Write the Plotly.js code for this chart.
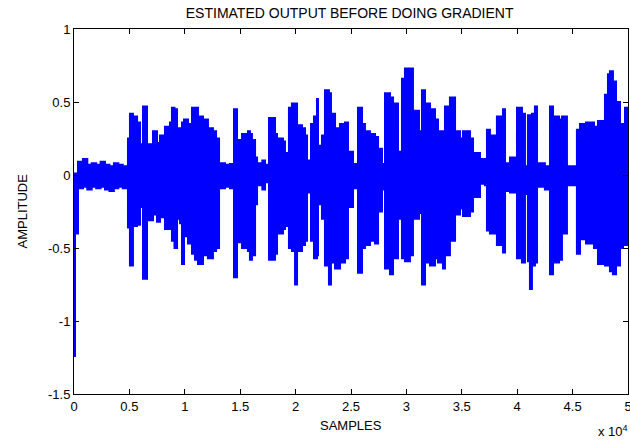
<!DOCTYPE html>
<html>
<head>
<meta charset="utf-8">
<script src="https://cdn.plot.ly/plotly-3.0.1.min.js"></script>
<style>html,body{margin:0;padding:0;background:#fff;}#chart{width:630px;height:441px;}</style>
</head>
<body>
<div id="chart"></div>
<script>
// Sample index (position along the signal)
const sampleIdx = [0,90,360,810,1200,1600,2000,2400,2800,3200,3600,4000,4400,4870,5050,5320,5690,5960,6230,6590,7130,7490,7760,8210,8660,8840,9070,9300,9570,9750,9930,10290,10650,10920,11190,11640,12090,12540,12820,13090,13630,14080,14440,14710,15160,15700,15880,16060,16340,16520,17000,17240,17600,18140,18320,18860,19040,19230,19400,19670,19950,20130,20580,20850,21030,21390,21660,21930,22020,22380,22650,23010,23190,23560,24010,24460,24730,25180,25630,25990,26260,26710,27170,27440,27800,28070,28520,28790,29240,29600,29870,30320,30590,31140,31410,31680,32130,32580,32850,33300,33480,33930,34390,34840,35110,35740,36010,36640,37090,37270,37540,38170,38720,38900,39350,39980,40430,40700,40970,41150,41330,41600,41790,42500,42960,43230,43770,44040,44490,45390,45670,46210,46930,47200,47290,47920,48190,48370,48640,48920,49280,49550,49730,50000];
// Upper envelope of the estimated output (amplitude)
const upperEnv = [0.01,0.01,0.09,0.11,0.07,0.08,0.07,0.09,0.07,0.06,0.08,0.07,0.06,0.25,0.42,0.40,0.36,0.21,0.47,0.21,0.30,0.22,0.27,0.33,0.36,0.46,0.45,0.32,0.31,0.36,0.38,0.35,0.46,0.46,0.40,0.38,0.32,0.30,0.25,0.08,0.07,0.075,0.45,0.24,0.28,0.30,0.28,0.24,0.12,0.08,0.10,0.07,0.39,0.28,0.25,0.23,0.15,0.03,0.46,0.49,0.49,0.34,0.32,0.27,0.10,0.35,0.40,0.52,0.20,0.27,0.58,0.56,0.42,0.32,0.35,0.36,0.16,0.075,0.46,0.35,0.30,0.28,0.26,0.18,0.075,0.56,0.53,0.49,0.16,0.66,0.73,0.73,0.44,0.30,0.58,0.49,0.45,0.38,0.30,0.25,0.47,0.53,0.30,0.25,0.30,0.25,0.15,0.11,0.10,0.31,0.27,0.40,0.45,0.08,0.12,0.46,0.42,0.06,0.41,0.41,0.42,0.47,0.08,0.06,0.47,0.40,0.38,0.40,0.06,0.31,0.35,0.36,0.33,0.20,0.37,0.55,0.69,0.71,0.64,0.50,0.35,0.28,0.46,0.46];
// Lower envelope of the estimated output (amplitude)
const lowerEnv = [-1.24,-0.40,-0.09,-0.08,-0.10,-0.08,-0.09,-0.08,-0.10,-0.11,-0.09,-0.08,-0.09,-0.36,-0.62,-0.35,-0.34,-0.22,-0.71,-0.31,-0.27,-0.32,-0.29,-0.37,-0.36,-0.45,-0.50,-0.30,-0.33,-0.61,-0.42,-0.47,-0.54,-0.58,-0.61,-0.55,-0.57,-0.52,-0.50,-0.09,-0.08,-0.09,-0.70,-0.46,-0.50,-0.52,-0.58,-0.55,-0.20,-0.07,-0.10,-0.05,-0.58,-0.54,-0.40,-0.37,-0.35,-0.08,-0.50,-0.52,-0.75,-0.52,-0.48,-0.45,-0.12,-0.45,-0.57,-0.55,-0.20,-0.30,-0.62,-0.75,-0.60,-0.64,-0.60,-0.57,-0.22,-0.09,-0.67,-0.50,-0.48,-0.45,-0.47,-0.25,-0.10,-0.64,-0.68,-0.57,-0.30,-0.57,-0.59,-0.55,-0.30,-0.26,-0.75,-0.60,-0.62,-0.57,-0.60,-0.64,-0.55,-0.45,-0.27,-0.23,-0.28,-0.25,-0.15,-0.06,-0.07,-0.38,-0.40,-0.48,-0.53,-0.11,-0.12,-0.57,-0.60,-0.13,-0.59,-0.78,-0.62,-0.60,-0.08,-0.10,-0.68,-0.60,-0.58,-0.40,-0.07,-0.54,-0.44,-0.47,-0.50,-0.45,-0.61,-0.62,-0.60,-0.66,-0.68,-0.62,-0.50,-0.40,-0.48,-0.48];
const xTickVals = [0,5000,10000,15000,20000,25000,30000,35000,40000,45000,50000];
const xTickText = ['0','0.5','1','1.5','2','2.5','3','3.5','4','4.5','5'];
const yTickVals = [-1.5,-1,-0.5,0,0.5,1];
const yTickText = ['-1.5','-1','-0.5','0','0.5','1'];

const blue = '#0000FF';
const traces = [
  {x: sampleIdx, y: upperEnv, type: 'scatter', mode: 'lines',
   line: {color: blue, width: 2, shape: 'hv'}, hoverinfo: 'skip', showlegend: false},
  {x: sampleIdx, y: lowerEnv, type: 'scatter', mode: 'lines', fill: 'tonexty', fillcolor: blue,
   line: {color: blue, width: 2, shape: 'hv'}, hoverinfo: 'skip', showlegend: false}
];
const font = {family: 'Liberation Sans, Arial, sans-serif', color: '#000'};
const layout = {
  width: 630, height: 441,
  margin: {l: 74, r: 2, t: 29, b: 47},
  paper_bgcolor: '#fff', plot_bgcolor: '#fff',
  font: Object.assign({size: 13}, font),
  title: {text: 'ESTIMATED OUTPUT BEFORE DOING GRADIENT', font: Object.assign({size: 14}, font),
          x: 0.555, xanchor: 'center', y: 0.971, yanchor: 'middle', yref: 'container'},
  xaxis: {range: [0, 50000], tickmode: 'array', tickvals: xTickVals, ticktext: xTickText,
          ticks: 'inside', ticklen: 5, tickcolor: '#000', showline: true, linecolor: '#000', linewidth: 1,
          mirror: 'ticks', showgrid: false, zeroline: false, tickfont: {size: 13},
          ticklabeloverflow: 'allow'},
  yaxis: {range: [-1.5, 1], tickmode: 'array', tickvals: yTickVals, ticktext: yTickText,
          ticks: 'inside', ticklen: 5, tickcolor: '#000', showline: true, linecolor: '#000', linewidth: 1,
          mirror: 'ticks', showgrid: false, zeroline: false, tickfont: {size: 13}},
  annotations: [
    {text: 'SAMPLES', xref: 'paper', yref: 'paper', x: 0.5, y: 0, xanchor: 'center', yanchor: 'middle',
     yshift: -31, showarrow: false, font: {size: 13}},
    {text: 'AMPLITUDE', xref: 'paper', yref: 'paper', x: 0, y: 0.5, xanchor: 'center', yanchor: 'middle',
     xshift: -52, textangle: -90, showarrow: false, font: {size: 13}},
    {text: 'x 10<sup>4</sup>', xref: 'paper', yref: 'paper', x: 1, y: 0, xanchor: 'right', yanchor: 'top',
     yshift: -27, xshift: 2, showarrow: false, font: {size: 13}}
  ]
};
Plotly.newPlot('chart', traces, layout, {staticPlot: true, displayModeBar: false});
</script>
</body>
</html>
